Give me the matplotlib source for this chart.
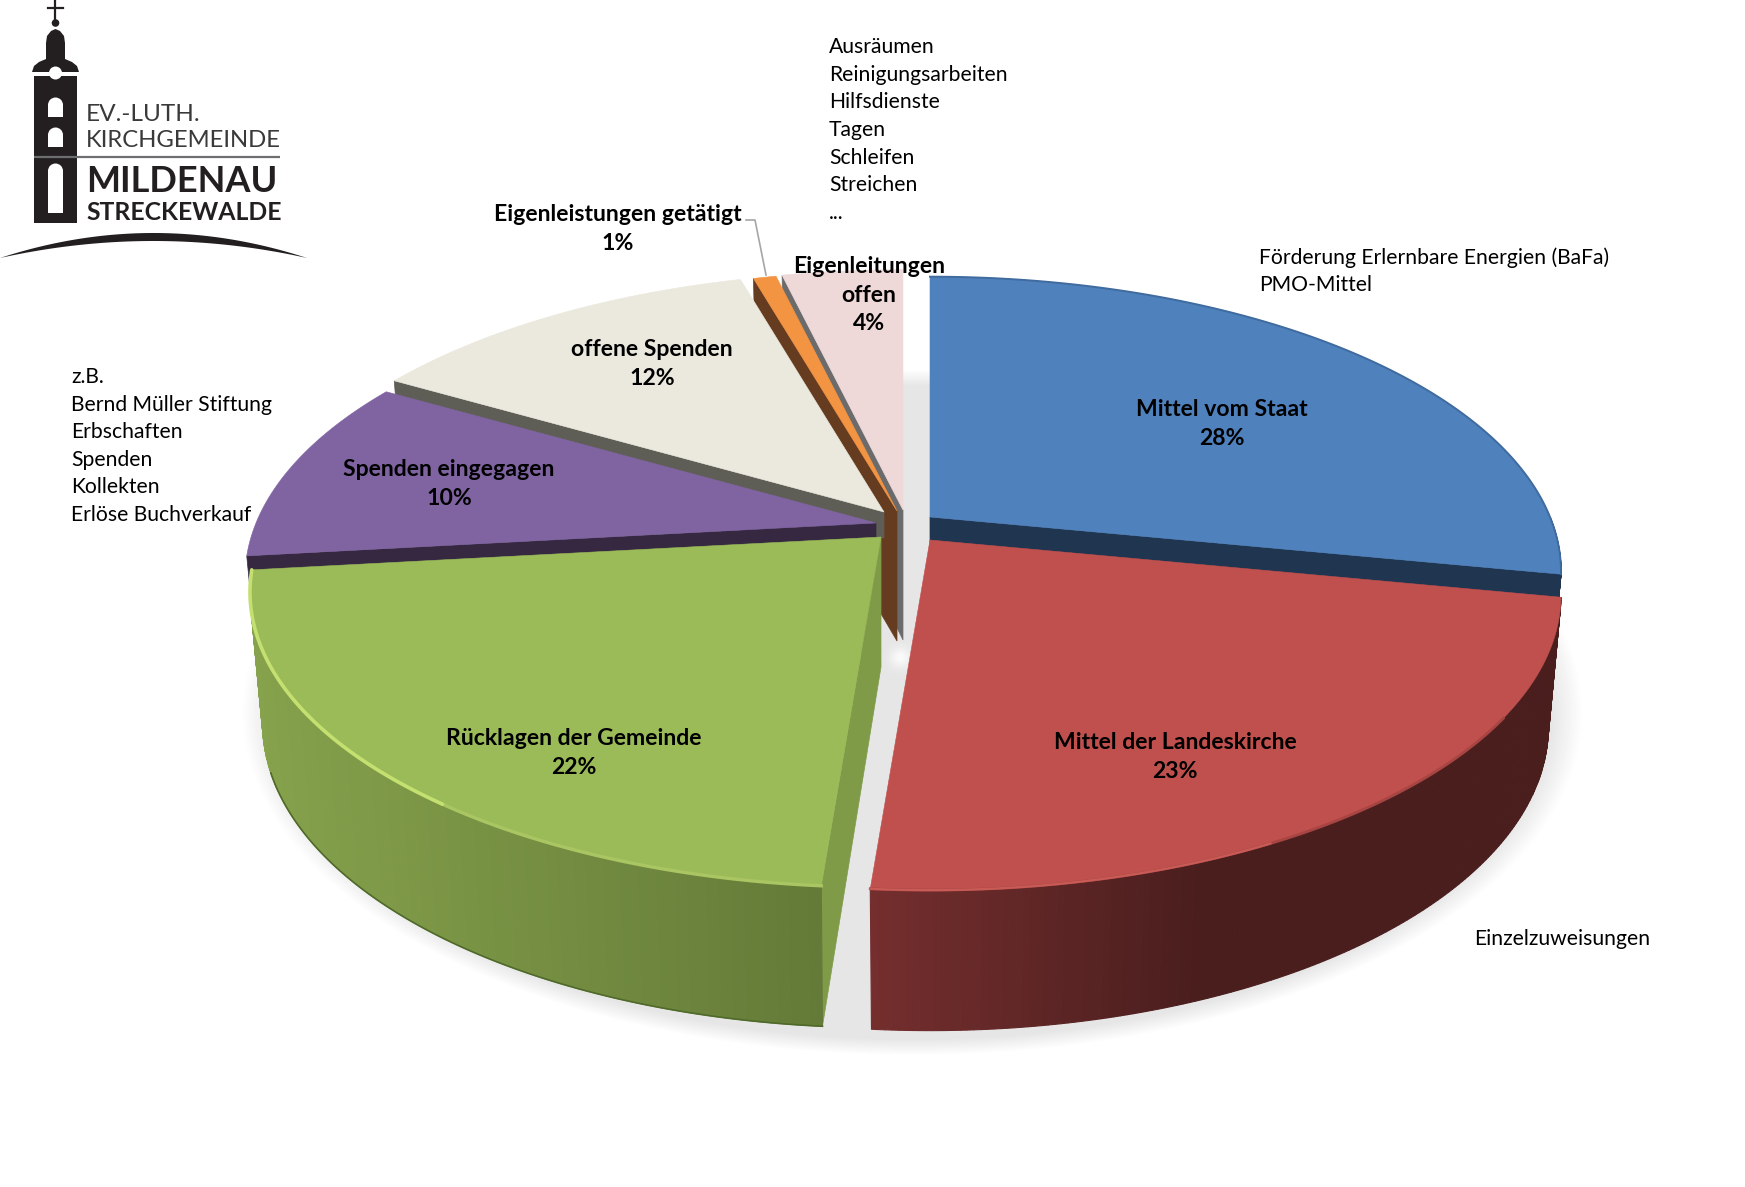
import numpy as np
import matplotlib
matplotlib.use("Agg")
import matplotlib.pyplot as plt
from matplotlib.patches import Circle, Rectangle

plt.rcParams["font.family"] = ["Lato", "DejaVu Sans"]

# shares, the labels show them rounded
slices = ["Mittel vom Staat", "Mittel der Landeskirche", "Rücklagen der Gemeinde", "Spenden eingegagen",
          "offene Spenden", "Eigenleistungen getätigt", "Eigenleitungen\noffen"]
shares = [28.1, 23.15, 21.95, 10.2, 12.2, 0.7, 3.7]
percent_labels = ["28%", "23%", "22%", "10%", "12%", "1%", "4%"]

notes_work = ["Ausräumen", "Reinigungsarbeiten", "Hilfsdienste", "Tagen", "Schleifen", "Streichen", "..."]
notes_funding = ["Förderung Erlernbare Energien (BaFa)", "PMO-Mittel"]
notes_donations = ["z.B.", "Bernd Müller Stiftung", "Erbschaften", "Spenden", "Kollekten", "Erlöse Buchverkauf"]
notes_church = ["Einzelzuweisungen"]

top_colors = ["#4f81bd", "#c0504d", "#9bbb59", "#8064a2", "#ebe9de", "#f39443", "#eed8d8"]
face_colors = ["#1f3550", "#4b1e1e", "#7f9b48", "#352840", "#5e5e56", "#653c1f", "#6b6b6b"]
wall_left = ["#1f3550", "#4b1e1e", "#5f7535", "#352840", "#5e5e56", "#653c1f", "#6b6b6b"]
wall_right = ["#1f3550", "#752e2e", "#86a24c", "#352840", "#5e5e56", "#653c1f", "#6b6b6b"]

# where each exploded slice has its tip, pixels
tips = [(930, 517), (930, 540), (881, 537), (876, 523), (884, 512), (897, 511), (903, 510)]
label_pos = [(1222, 424), (1175, 757), (574, 753), (449, 484), (652, 364), (618, 229), (869, 295)]

# perspective of the tilted disc
RX, RY, K = 620, 285, 0.186
DZ, SX, SY = 130, 0.98, 1.03


def project(tip, theta, lower=False):
    X, Y = np.sin(theta), np.cos(theta)
    f = 1 / (1 + K * Y)
    if lower:
        return tip[0] + RX * SX * X * f, tip[1] + DZ - RY * SY * Y * f
    return tip[0] + RX * X * f, tip[1] - RY * Y * f


def lerp_color(c1, c2, t):
    a = np.array(matplotlib.colors.to_rgb(c1))
    b = np.array(matplotlib.colors.to_rgb(c2))
    return tuple(a + (b - a) * t)


def draw_face(ax, tip, theta, color, tip_drop=DZ):
    x0, y0 = project(tip, theta)
    x1, y1 = project(tip, theta, lower=True)
    ax.fill([tip[0], x0, x1, tip[0]], [tip[1], y0, y1, tip[1] + tip_drop], color=color, lw=0.5)


def draw_wall(ax, tip, start, end, c_left, c_right):
    # only the part that faces us, from 90 to 270 degrees clockwise from the top
    a = max(start, np.pi / 2)
    b = min(end, 3 * np.pi / 2)
    if a >= b:
        return
    thetas = np.linspace(a, b, 160)
    for i in range(len(thetas) - 1):
        x0, y0 = project(tip, thetas[i])
        x1, y1 = project(tip, thetas[i + 1])
        x2, y2 = project(tip, thetas[i + 1], lower=True)
        x3, y3 = project(tip, thetas[i], lower=True)
        if tip[0] < 900:
            t = 1 - np.clip((x0 - 250) / 650, 0, 1)
        else:
            t = np.clip((1200 - x0) / 330, 0, 1)
        ax.fill([x0, x1, x2, x3], [y0, y1, y2, y3], color=lerp_color(c_left, c_right, t), lw=0.8)


def draw_top(ax, tip, start, end, color):
    thetas = np.linspace(start, end, 120)
    xs, ys = project(tip, thetas)
    ax.fill(np.r_[tip[0], xs], np.r_[tip[1], ys], color=color, lw=0.4)


def draw_logo(ax):
    dark = "#231f20"
    # tower
    ax.add_patch(Rectangle((34, 76), 43, 147, color=dark, lw=0))
    for y, h in [(98, 19), (128, 19), (164, 49)]:
        ax.add_patch(Rectangle((48, y + 6), 15, h - 6, color="white", lw=0))
        ax.add_patch(Circle((55.5, y + 7), 7.5, color="white", lw=0))
    ax.plot([34, 280], [157, 157], color="#6d6e70", lw=1.6, solid_capstyle="butt")
    # dome and cross
    dome_x = [32, 34, 39, 46, 46, 47, 51, 55.5, 60, 64, 65, 65, 72, 77, 79]
    dome_y = [72, 66, 62, 59, 43, 36, 31, 29, 31, 36, 43, 59, 62, 66, 72]
    ax.fill(dome_x, dome_y, color=dark, lw=0)
    ax.add_patch(Circle((55.5, 23), 3.8, color=dark, lw=0))
    ax.add_patch(Circle((55.5, 73), 6.5, color="white", lw=0, zorder=2))
    ax.plot([55.5, 55.5], [0, 22], color=dark, lw=1.6)
    ax.plot([48, 63], [8, 8], color=dark, lw=1.6)
    ax.text(86, 121, "EV.-LUTH.", fontsize=17.6, color="#3a3a3a", va="baseline")
    ax.text(86, 147, "KIRCHGEMEINDE", fontsize=17.2, color="#3a3a3a", va="baseline")
    ax.text(86, 192, "MILDENAU", fontsize=26, fontweight="bold", color=dark, va="baseline")
    ax.text(86, 220, "STRECKEWALDE", fontsize=17.8, fontweight="bold", color=dark, va="baseline")
    # curved ground line
    xs = np.linspace(0, 307, 100)
    u = (xs - 153.5) / 153.5
    ax.fill(np.r_[xs, xs[::-1]], np.r_[258 - 25 * (1 - u ** 2), (258 - 17 * (1 - u ** 2))[::-1]], color=dark, lw=0)


fig = plt.figure(figsize=(17.45, 11.87), dpi=100)
ax = fig.add_axes([0, 0, 1, 1])

# soft grey shadow under the whole pie
yy, xx = np.mgrid[0:1187, 0:1745]
d = np.sqrt(((xx - 912) / 655) ** 2 + ((yy - 712) / 335) ** 2)
shadow = 1 - 0.1 * np.clip((1 - d) / 0.05 + 0.5, 0, 1)
shadow = np.minimum(1, shadow + 0.08 * np.exp(-((xx - 900) ** 2 + (yy - 657) ** 2) / (2 * 7.0 ** 2)))
ax.imshow(shadow, cmap="gray", vmin=0, vmax=1, extent=[0, 1745, 1187, 0], aspect="auto", zorder=0)

fractions = np.array(shares) / sum(shares)
ends = np.cumsum(fractions) * 2 * np.pi
starts = np.r_[0, ends[:-1]]

# back to front, so nearer slices cover the cut faces behind them
draw_face(ax, tips[6], starts[6], face_colors[6])
draw_top(ax, tips[6], starts[6], ends[6], top_colors[6])
draw_face(ax, tips[5], starts[5], face_colors[5])
draw_top(ax, tips[5], starts[5], ends[5], top_colors[5])
draw_face(ax, tips[4], starts[4], face_colors[4], tip_drop=26)
draw_top(ax, tips[4], starts[4], ends[4], top_colors[4])
draw_face(ax, tips[3], starts[3], face_colors[3])
draw_top(ax, tips[3], starts[3], ends[3], top_colors[3])
draw_face(ax, tips[0], ends[0], face_colors[0])
draw_wall(ax, tips[0], starts[0], ends[0], wall_left[0], wall_right[0])
draw_top(ax, tips[0], starts[0], ends[0], top_colors[0])
draw_face(ax, tips[2], starts[2], face_colors[2])
draw_wall(ax, tips[2], starts[2], ends[2], wall_left[2], wall_right[2])
draw_top(ax, tips[2], starts[2], ends[2], top_colors[2])
draw_wall(ax, tips[1], starts[1], ends[1], wall_left[1], wall_right[1])
draw_top(ax, tips[1], starts[1], ends[1], top_colors[1])

# light bevel along the front rim
th = np.linspace(starts[2], ends[2], 120)
ax.plot(*project(tips[2], th[:100], lower=True), color="#4f6a2a", lw=1.2)
ax.plot(*project(tips[2], th[:50]), color="#a9c663", lw=2.4)
ax.plot(*project(tips[2], th[49:]), color="#c3e070", lw=2.6, solid_capstyle="round")
th = np.linspace(starts[1] + 0.4, ends[1], 120)
ax.plot(*project(tips[1], th), color="#a84543", lw=2)
th = np.linspace(starts[1] + 0.9, ends[1], 60)
ax.plot(*project(tips[1], th), color="#c95b57", lw=1.6)
th = np.linspace(starts[0], ends[0], 120)
ax.plot(*project(tips[0], th), color="#3f6b9f", lw=1.4)

# labels on the slices
for name, pct, pos in zip(slices, percent_labels, label_pos):
    ax.text(pos[0], pos[1], name + "\n" + pct, ha="center", va="center", fontsize=16.6, fontweight="bold",
            color="black", linespacing=1.46, zorder=5)

# leader line of the 1% slice
ax.plot([746, 755, 766], [220, 220, 275], color="#a6a6a6", lw=1.2, zorder=4)

# free notes next to the pie
ax.text(829, 130, "\n".join(notes_work), ha="left", va="center", fontsize=15.2, linespacing=1.47, zorder=5)
ax.text(1259, 271, "\n".join(notes_funding), ha="left", va="center", fontsize=15.2, linespacing=1.47, zorder=5)
ax.text(71, 446, "\n".join(notes_donations), ha="left", va="center", fontsize=15.2, linespacing=1.47, zorder=5)
ax.text(1474, 939, "\n".join(notes_church), ha="left", va="center", fontsize=15.2, zorder=5)

draw_logo(ax)

ax.set_xlim(0, 1745)
ax.set_ylim(1187, 0)
ax.axis("off")
fig.savefig("out.png", dpi=100)
